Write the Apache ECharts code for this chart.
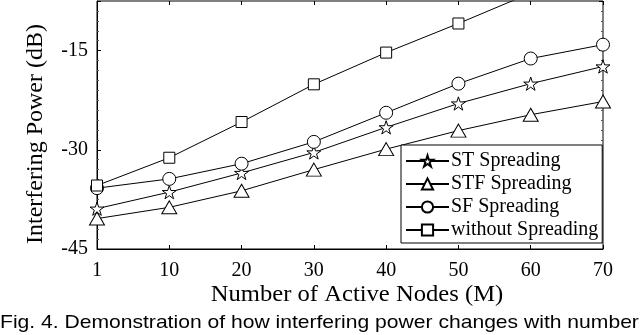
<!DOCTYPE html>
<html>
<head>
<meta charset="utf-8">
<script src="https://cdn.jsdelivr.net/npm/echarts@6/dist/echarts.min.js"></script>
<style>
  html, body { margin: 0; padding: 0; background: #fff; }
  #chart { width: 640px; height: 335px; }
</style>
</head>
<body>
<div id="chart"></div>
<script>
// data
var nodes = ['1', '10', '20', '30', '40', '50', '60', '70'];
var stSpreading = [-38.9, -36.4, -33.5, -30.4, -26.6, -23.0, -20.0, -17.4];
var stfSpreading = [-40.4, -38.7, -36.2, -33.0, -29.9, -27.1, -24.7, -22.7];
var sfSpreading = [-35.8, -34.4, -32.1, -28.8, -24.4, -20.0, -16.2, -14.1];
var withoutSpreading = [-35.4, -31.2, -25.8, -20.1, -15.3, -10.9, -6.3, -2.5];
var yTicks = [-45, -30, -15];

var serif = '"Liberation Serif", "DejaVu Serif", serif';
var starPath = 'path://M0,-10 L2.245,-3.09 L9.51,-3.09 L3.633,1.18 L5.88,8.09 L0,3.82 L-5.88,8.09 L-3.633,1.18 L-9.51,-3.09 L-2.245,-3.09 Z';

function mkSeries(name, data, symbol, size) {
    return {
        name: name,
        type: 'line',
        data: data,
        symbol: symbol,
        symbolSize: size,
        symbolKeepAspect: true,
        showAllSymbol: true,
        lineStyle: { color: '#000', width: 1 },
        itemStyle: { color: '#fff', borderColor: '#000', borderWidth: 1 },
        emphasis: { disabled: true },
        animation: false
    };
}

var chart = echarts.init(document.getElementById('chart'), null, { renderer: 'canvas' });
var option = {
    backgroundColor: '#fff',
    animation: false,
    grid: {
        left: 97, right: 37, top: 1, bottom: 86,
        show: true, borderColor: '#000', borderWidth: 1
    },
    legend: {
        orient: 'vertical',
        left: 401, top: 145,
        padding: [6, 4, 3, 4],
        itemGap: 3,
        itemWidth: 43,
        itemHeight: 14,
        borderColor: '#000',
        borderWidth: 1,
        borderRadius: 0,
        backgroundColor: '#fff',
        textStyle: { fontFamily: serif, fontSize: 20, color: '#000', padding: [0, 0, 0, -3], lineHeight: 20 },
        data: ['ST Spreading', 'STF Spreading', 'SF Spreading', 'without Spreading']
    },
    xAxis: [{
        type: 'category',
        data: nodes,
        boundaryGap: false,
        axisLine: { lineStyle: { color: '#000', width: 1 } },
        axisTick: { inside: true, length: 4, lineStyle: { color: '#000' } },
        axisLabel: { fontFamily: serif, fontSize: 20, color: '#000', margin: 12 },
        splitLine: { show: false }
    }, {
        type: 'category',
        data: nodes,
        position: 'top',
        boundaryGap: false,
        axisLine: { show: false },
        axisTick: { inside: true, length: 4, lineStyle: { color: '#000' } },
        axisLabel: { show: false },
        splitLine: { show: false }
    }],
    yAxis: [{
        type: 'value',
        min: yTicks[0], max: -7.5, interval: 15,
        axisLine: { show: true, lineStyle: { color: '#000', width: 1 } },
        axisTick: { show: true, inside: true, length: 4, lineStyle: { color: '#000' } },
        minorTick: { show: true, splitNumber: 10, length: 2, lineStyle: { color: '#555' } },
        axisLabel: {
            fontFamily: serif, fontSize: 20, color: '#000', margin: 9,
            showMaxLabel: false,
            formatter: function (v) { return yTicks.indexOf(v) >= 0 ? String(v) : ''; }
        },
        splitLine: { show: false }
    }, {
        type: 'value',
        min: yTicks[0], max: -7.5, interval: 15,
        position: 'right',
        axisLine: { show: false },
        axisTick: { show: true, inside: true, length: 4, lineStyle: { color: '#000' } },
        minorTick: { show: true, splitNumber: 10, length: 2, lineStyle: { color: '#555' } },
        axisLabel: { show: false },
        splitLine: { show: false }
    }],
    graphic: [{
        type: 'text',
        x: 357, y: 295,
        scaleX: 1.07,
        style: {
            text: 'Number of Active Nodes (M)',
            font: '23px ' + serif,
            fill: '#000',
            align: 'center',
            verticalAlign: 'middle'
        }
    }, {
        type: 'text',
        x: 36, y: 134,
        rotation: Math.PI / 2,
        style: {
            text: 'Interfering Power (dB)',
            font: '24px ' + serif,
            fill: '#000',
            align: 'center',
            verticalAlign: 'middle'
        }
    }, {
        type: 'text',
        x: 0, y: 323,
        scaleX: 1.11,
        style: {
            text: 'Fig. 4. Demonstration of how interfering power changes with number',
            font: '19px "Liberation Sans", Arial, sans-serif',
            fill: '#000',
            align: 'left',
            verticalAlign: 'middle'
        }
    }],
    series: [
        mkSeries('ST Spreading', stSpreading, starPath, 14),
        mkSeries('STF Spreading', stfSpreading, 'triangle', [15, 13]),
        mkSeries('SF Spreading', sfSpreading, 'circle', 13),
        mkSeries('without Spreading', withoutSpreading, 'rect', 11)
    ]
};
chart.setOption(option);
</script>
</body>
</html>
